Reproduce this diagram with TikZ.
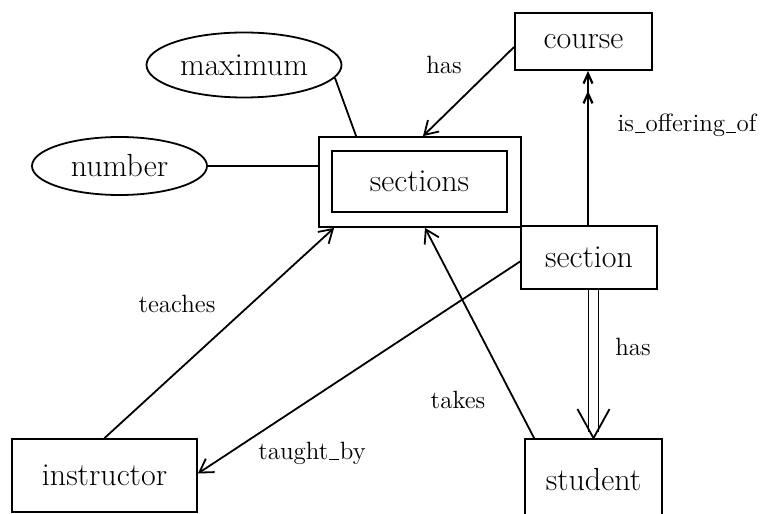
\documentclass[tikz,border=0pt]{standalone}
\usetikzlibrary{arrows.meta,shapes.geometric}
\begin{document}
\begin{tikzpicture}[x=0.5pt,y=-0.5pt,
  line width=0.9pt,
  entity/.style={draw,rectangle,inner sep=0pt,font=\fontsize{16}{19}\selectfont},
  attr/.style={draw,ellipse,inner sep=0pt,font=\fontsize{16}{19}\selectfont},
  rel/.style={font=\fontsize{12.5}{15}\selectfont,inner sep=0pt},
  link/.style={-{Straight Barb[length=6.5pt,width=8pt,line width=0.9pt]}},
  barb/.style={-{Straight Barb[length=5pt,width=4.5pt,line width=1.1pt]}},
  rule/.style={}]
\newcommand\uscore{\kern0.5pt\rule[-0.6pt]{0.38em}{0.45pt}\kern0.5pt}
\useasboundingbox (0,0) rectangle (764,513);
\begin{scope}
\clip (0,0) rectangle (764,513);

% attributes
\node[attr,minimum width=97.5pt,minimum height=32.5pt] (maximum) at (244,65) {maximum};
\node[attr,minimum width=87.5pt,minimum height=29pt] (number) at (119.5,166) {number};

% weak entity: double rectangle
\node[entity,minimum width=101pt,minimum height=45pt] (sectionsbox) at (420,182) {};
\node[entity,minimum width=87.5pt,minimum height=30.5pt] (sections) at (419.5,181.5) {sections};

% entities
\node[entity,minimum width=68.5pt,minimum height=28.5pt] (course) at (583.5,41.5) {course};
\node[entity,minimum width=68pt,minimum height=31.5pt] (section) at (589,257.5) {section};
\node[entity,minimum width=68.5pt,minimum height=41pt] (student) at (593.5,480) {student};
\node[entity,minimum width=92.5pt,minimum height=36.5pt] (instructor) at (104.5,475.5) {instructor};

% attribute links
\draw (number.east) -- (number.east -| sectionsbox.west);
\draw (maximum.-8.5) -- ([xshift=19pt]sectionsbox.north west);

% relationships
\draw[link] ([yshift=-2.75pt]course.west) -- ([xshift=1.5pt]sectionsbox.north);
\coordinate (offtop) at ([xshift=-0.5pt]section.north |- course.south);
\draw[barb] ([xshift=-0.5pt]section.north) -- (offtop);
\draw[barb] ([yshift=-10pt]offtop) -- ([yshift=-9.9pt]offtop);
\draw[link] (instructor.north) -- ([xshift=8pt]sectionsbox.south west);
\draw[link] ([yshift=-2pt]section.west) -- ([yshift=1pt]instructor.east);
\draw[link] ([xshift=5pt]student.north west) -- ([xshift=2.5pt]sectionsbox.south);

% double link section -> student
\draw ([xshift=-2.5pt]student.north |- section.south) -- ([xshift=-2.5pt,yshift=3pt]student.north);
\draw ([xshift=2.5pt]student.north |- section.south) -- ([xshift=2.5pt,yshift=3pt]student.north);
\draw ([shift={(-8pt,14.5pt)}]student.north) -- (student.north) -- ([shift={(8pt,14.5pt)}]student.north);

% relationship labels
\node[rel] (lhas) at (444,65) {has};
\node[rel] (loffer) at (687,125) {is\uscore offering\uscore of};
\node[rel] (lteach) at (177,304) {teaches};
\node[rel] (ltaught) at (312,453) {taught\uscore by};
\node[rel] (ltakes) at (458,400) {takes};
\node[rel] (lhas2) at (633,347) {has};
\end{scope}
\end{tikzpicture}
\end{document}
